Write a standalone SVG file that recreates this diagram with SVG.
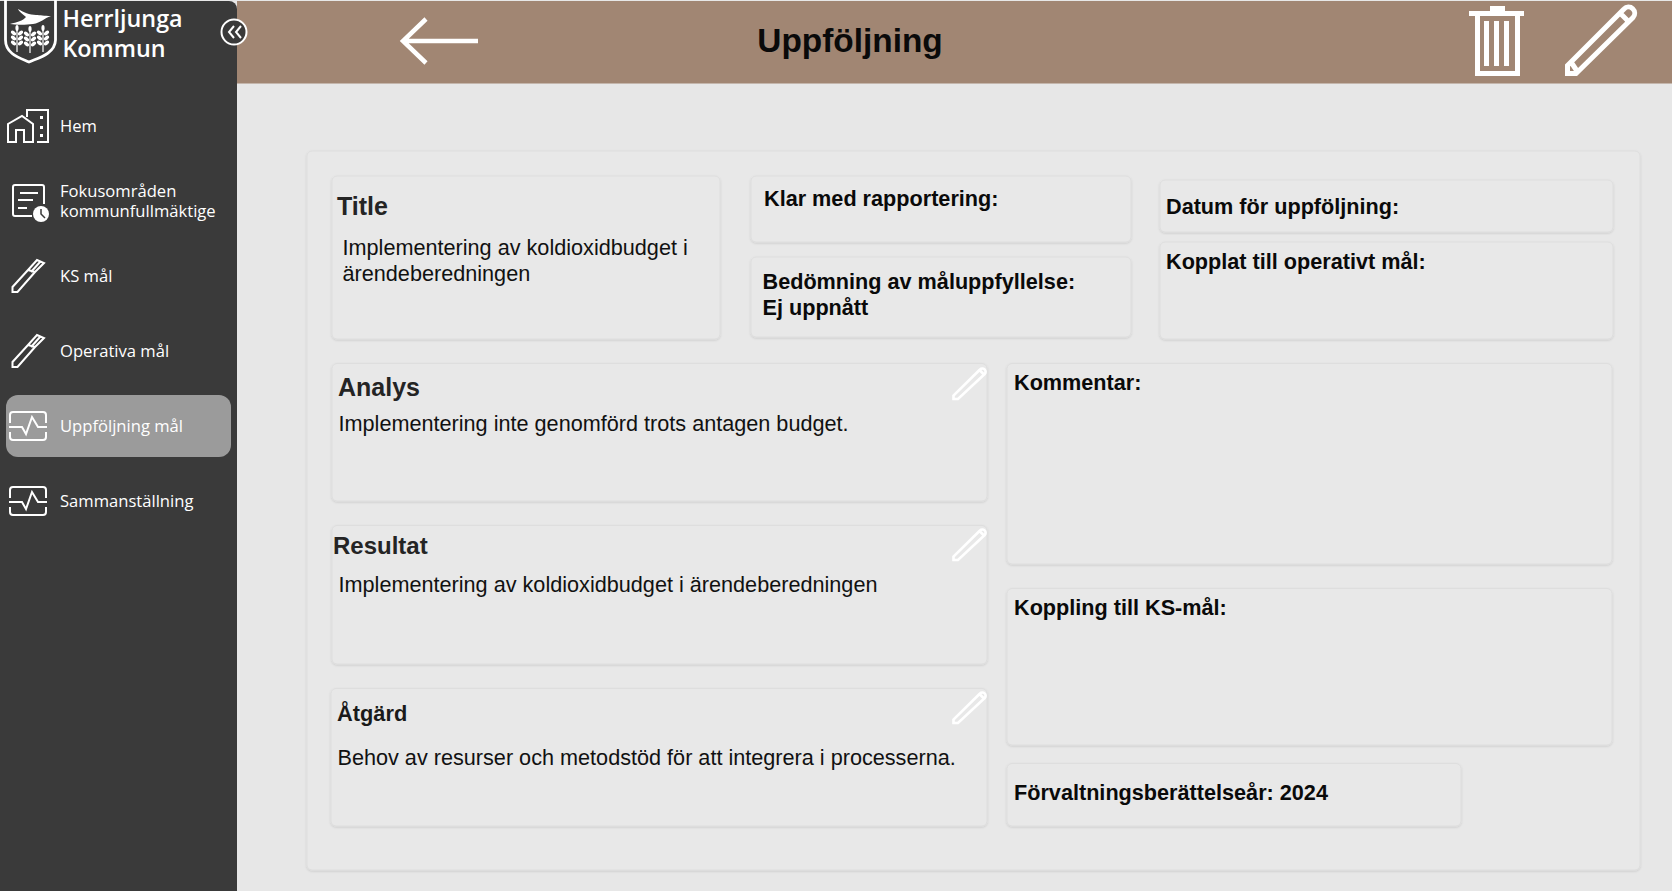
<svg xmlns="http://www.w3.org/2000/svg" width="1672" height="891" viewBox="0 0 1672 891">
<style>
.card{fill:#e8e8e8;stroke:#dedede;stroke-width:1;filter:url(#sh)}
.b{font-family:"Liberation Sans",Arial,sans-serif;font-weight:700;font-size:21.65px;fill:#0a0a0a}
.h{font-family:"Liberation Sans",Arial,sans-serif;font-weight:700;font-size:25px;fill:#242424}
.t{font-family:"Liberation Sans",Arial,sans-serif;font-size:21.65px;fill:#111}
.n{font-family:"Open Sans",sans-serif;font-size:16.6px;fill:#fff}
.logo{font-family:"Open Sans",sans-serif;font-weight:600;font-size:23.3px;fill:#fff}
.ic{fill:none;stroke:#fff;stroke-width:2}
.pen{fill:none;stroke:#fff;stroke-width:2.6}
</style>
<defs>
<filter id="sh" x="-5%" y="-5%" width="110%" height="110%"><feDropShadow dx="0" dy="1" stdDeviation="1" flood-color="#000" flood-opacity="0.13"/></filter>
<g id="pen"><path class="pen" d="M1.500 32 V28.500 L28 2.500 a3.200 3.200 0 0 1 4.700 4.500 L6 32 Z M27.500 3 L32 7.500"/></g>
<g id="pulse"><path class="ic" d="M1 12 V4 a3 3 0 0 1 3-3 H34 a3 3 0 0 1 3 3 V12 M1 21 V26 a3 3 0 0 0 3 3 H34 a3 3 0 0 0 3-3 V21"/><path class="ic" d="M0 16 H13 L17 23 L23 6 L29 16 H38"/></g>
<g id="nib"><path class="ic" d="M12.500 367 V362 L28 345 L37 335 L44 338 L35 347 L17.500 367 Z M28 345 L35 347 M31 347 L40 337"/></g>
<g id="ear" fill="#fff"><ellipse cx="-3.500" cy="3" rx="3" ry="1.800" transform="rotate(35 -3.500 3)"/><ellipse cx="3.500" cy="3" rx="3" ry="1.800" transform="rotate(-35 3.500 3)"/><ellipse cx="-3.500" cy="8" rx="3" ry="1.800" transform="rotate(35 -3.500 8)"/><ellipse cx="3.500" cy="8" rx="3" ry="1.800" transform="rotate(-35 3.500 8)"/><ellipse cx="-3.500" cy="13" rx="3" ry="1.800" transform="rotate(35 -3.500 13)"/><ellipse cx="3.500" cy="13" rx="3" ry="1.800" transform="rotate(-35 3.500 13)"/><ellipse cx="0" cy="-2" rx="1.600" ry="3"/><rect x="-0.600" y="0" width="1.200" height="22"/></g>
</defs>
<rect width="1672" height="891" fill="#e7e7e7"/>
<g id="header">
<rect x="237" y="1" width="1435" height="82.500" fill="#a18673"/>
<path fill="none" stroke="#fff" stroke-width="4.500" d="M478 41 H403 M426 19 L403 41 L426 63"/>
<text x="850" y="52" text-anchor="middle" font-family="'Liberation Sans',Arial,sans-serif" font-weight="700" font-size="33.400" fill="#0a0a0a">Uppföljning</text>
<g id="trash" fill="#fff"><rect x="1469" y="11" width="55" height="5"/><rect x="1490" y="6" width="15" height="6"/><path fill="none" stroke="#fff" stroke-width="5" d="M1477.500 15 V73.500 H1517.500 V15"/><rect x="1484" y="21" width="5" height="45"/><rect x="1494" y="21" width="5" height="45"/><rect x="1504" y="21" width="5" height="45"/></g>
<path id="edit" fill="none" stroke="#fff" stroke-width="5" d="M1567.500 73.500 V65.500 L1624 9 a5.500 5.500 0 0 1 9 8.500 L1576 73.500 Z M1620 13 L1629 22 M1571 62 L1577 71"/>
</g>
<g id="sidebar">
<path d="M0 1 H229 a8 8 0 0 1 8 8 V891 H0 Z" fill="#3a3a3a"/>
<g id="logo">
<path d="M5.500 0 V40 C5.500 54 20 58 29 62 C38 58 55 54 55.500 40 V0" fill="none" stroke="#fff" stroke-width="2.800"/>
<path d="M10 24 C17 22 23 21 26 17 C23 14 19 12 18 9 C23 12 30 15 36 15 C40 15 44 16 51 16 C44 18 41 23 33 24 C26 25 16 25 10 24 Z" fill="#fff"/>
<use href="#ear" x="17" y="30"/><use href="#ear" x="30" y="31"/><use href="#ear" x="43" y="30"/>
<text class="logo" x="62.500" y="27">Herrljunga</text><text class="logo" x="62.500" y="57">Kommun</text>
</g>
<g id="collapse"><circle cx="234" cy="32" r="12.500" fill="#3a3a3a" stroke="#fff" stroke-width="2"/><path d="M234 26 L229 32 L234 38 M241 26 L236 32 L241 38" fill="none" stroke="#fff" stroke-width="2"/></g>
<g id="nav-hem"><path class="ic" d="M8 142 V124 L22 116 L33 124 V142 H24 V130 H16 V142 Z M27 117 V110 H48 V142 H37"/><path d="M40 116 h3 v3 h-3 Z M40 126 h3 v3 h-3 Z M40 134 h3 v3 h-3 Z" fill="#fff"/><text class="n" x="60" y="132">Hem</text></g>
<g id="nav-fokus"><path class="ic" d="M44 204 V187 a2 2 0 0 0 -2-2 H15 a2 2 0 0 0 -2 2 V214 a2 2 0 0 0 2 2 H32 M20 193 H38 M18 200 H33 M18 208 H27"/><circle cx="41" cy="214" r="8" fill="#fff"/><path d="M41 209 V214 L45 218" stroke="#3a3a3a" stroke-width="1.500" fill="none"/><text class="n" x="60" y="197">Fokusområden</text><text class="n" x="60" y="217">kommunfullmäktige</text></g>
<g id="nav-ks"><use href="#nib" x="0" y="-75"/><text class="n" x="60" y="282">KS mål</text></g>
<g id="nav-op"><use href="#nib"/><text class="n" x="60" y="357">Operativa mål</text></g>
<g id="nav-upp"><rect x="6" y="395" width="225" height="62" rx="12" fill="#9b9b9b"/><use href="#pulse" x="9" y="411"/><text class="n" x="60" y="432">Uppföljning mål</text></g>
<g id="nav-samman"><use href="#pulse" x="9" y="486"/><text class="n" x="60" y="507">Sammanställning</text></g>
</g>
<g id="panel"><rect class="card" x="307" y="151" width="1333" height="719" rx="5"/></g>
<g id="card-title"><rect class="card" x="332" y="176" width="388" height="163" rx="5"/><text class="h" x="337" y="215">Title</text><text class="t" x="342.500" y="255">Implementering av koldioxidbudget i</text><text class="t" x="342.500" y="281">ärendeberedningen</text></g>
<g id="card-klar"><rect class="card" x="751" y="176" width="380" height="66" rx="5"/><text class="b" x="764" y="206">Klar med rapportering:</text></g>
<g id="card-bedomning"><rect class="card" x="751" y="257" width="380" height="80" rx="5"/><text class="b" x="762.500" y="289">Bedömning av måluppfyllelse:</text><text class="b" x="762.500" y="315">Ej uppnått</text></g>
<g id="card-datum"><rect class="card" x="1160" y="180" width="453" height="52" rx="5"/><text class="b" x="1166" y="214">Datum för uppföljning:</text></g>
<g id="card-kopplat"><rect class="card" x="1160" y="242" width="453" height="97" rx="5"/><text class="b" x="1166" y="269">Kopplat till operativt mål:</text></g>
<g id="card-analys"><rect class="card" x="332" y="363.500" width="655" height="137.500" rx="5"/><text class="h" x="338" y="396">Analys</text><text class="t" x="338.500" y="431">Implementering inte genomförd trots antagen budget.</text><use href="#pen" x="952" y="367"/></g>
<g id="card-resultat"><rect class="card" x="332" y="525.500" width="655" height="138.500" rx="5"/><text class="h" x="333" y="553.500" style="font-size:24px">Resultat</text><text class="t" x="338.500" y="592">Implementering av koldioxidbudget i ärendeberedningen</text><use href="#pen" x="952" y="528"/></g>
<g id="card-atgard"><rect class="card" x="331" y="688.500" width="656" height="137.500" rx="5"/><text class="b" x="337" y="721" style="font-size:21.800px;fill:#1a1a1a">Åtgärd</text><text class="t" x="337.500" y="765">Behov av resurser och metodstöd för att integrera i processerna.</text><use href="#pen" x="952" y="691"/></g>
<g id="card-kommentar"><rect class="card" x="1007" y="363.500" width="605" height="200.500" rx="5"/><text class="b" x="1014" y="390">Kommentar:</text></g>
<g id="card-koppling"><rect class="card" x="1007" y="588.500" width="605" height="156.500" rx="5"/><text class="b" x="1014" y="615">Koppling till KS-mål:</text></g>
<g id="card-forv"><rect class="card" x="1007" y="763.500" width="454" height="62.500" rx="5"/><text class="b" x="1014" y="800">Förvaltningsberättelseår: 2024</text></g>
</svg>
